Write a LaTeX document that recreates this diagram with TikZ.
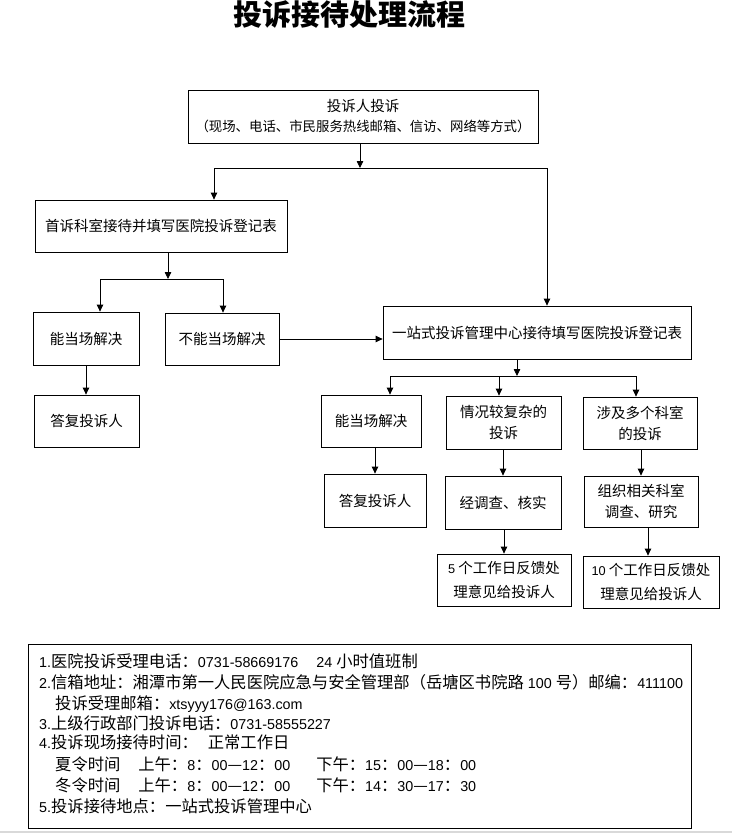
\documentclass[tikz,border=0pt]{standalone}
\usepackage{fontspec}
\setmainfont{Noto Sans CJK SC}
\newfontfamily\latf{Liberation Sans}[Scale=0.88]
\usetikzlibrary{arrows.meta,calc}
\begin{document}
\begin{tikzpicture}[x=1pt,y=-1pt,
  box/.style={draw,line width=0.8pt,inner sep=0pt,align=center,font=\fontsize{14.5}{21}\selectfont},
  arr/.style={line width=0.8pt,-{Triangle[length=7pt,width=6.5pt]}},
  ln/.style={line width=0.8pt},
  info/.style={anchor=base west,inner sep=0pt,font=\fontsize{16.3}{20}\selectfont}]
\useasboundingbox (0,0) rectangle (732,835);
\fill[white] (0,0) rectangle (732,835);
\draw[gray!30,line width=2pt] (0,832) -- (732,832);

\node[inner sep=0pt,font=\fontsize{29}{30}\selectfont\bfseries] (title) at (349,15) {投诉接待处理流程};

\node[box,minimum width=350pt,minimum height=53pt,font=\fontsize{13.4}{20}\selectfont] (b1) at (363,116.5)
  {{\fontsize{14.5}{20}\selectfont 投诉人投诉}\\（现场、电话、市民服务热线邮箱、信访、网络等方式）};
\node[box,minimum width=252pt,minimum height=52pt] (b2) at (161,226) {首诉科室接待并填写医院投诉登记表};
\node[box,minimum width=106pt,minimum height=53pt] (b3) at (86,338.5) {能当场解决};
\node[box,minimum width=114pt,minimum height=52pt] (b4) at (222,339) {不能当场解决};
\node[box,minimum width=105pt,minimum height=52pt] (b5) at (86.5,421) {答复投诉人};
\node[box,minimum width=308pt,minimum height=53pt] (b6) at (537,332.5) {一站式投诉管理中心接待填写医院投诉登记表};
\node[box,minimum width=100pt,minimum height=52pt] (b7) at (371,421) {能当场解决};
\node[box,minimum width=115pt,minimum height=53pt] (b8) at (503.5,422.5) {情况较复杂的\\投诉};
\node[box,minimum width=114pt,minimum height=52pt] (b9) at (640,423) {涉及多个科室\\的投诉};
\node[box,minimum width=102pt,minimum height=53pt] (b10) at (375,500.5) {答复投诉人};
\node[box,minimum width=116pt,minimum height=53pt] (b11) at (503,502.5) {经调查、核实};
\node[box,minimum width=114pt,minimum height=51pt] (b12) at (641,501.5) {组织相关科室\\调查、研究};
\node[box,minimum width=134pt,minimum height=52pt,font=\fontsize{14.5}{24}\selectfont] (b13) at (504,580) {{\latf 5} 个工作日反馈处\\理意见给投诉人};
\node[box,minimum width=136pt,minimum height=52pt,font=\fontsize{14.5}{24}\selectfont] (b14) at (651,582) {{\latf 10} 个工作日反馈处\\理意见给投诉人};

% connectors
\coordinate (j1) at (360,168);
\coordinate (j1l) at (214,168);
\coordinate (j1r) at (547,168);
\draw[arr] (b1.south -| j1) -- (j1);
\draw[ln] (j1l) -- (j1r);
\draw[arr] (j1l) -- (j1l |- b2.north);
\draw[arr] (j1r) -- (j1r |- b6.north);

\coordinate (j2) at (168,279);
\coordinate (j2l) at (100,279);
\coordinate (j2r) at (223,279);
\draw[arr] (b2.south -| j2) -- (j2);
\draw[ln] (j2l) -- (j2r);
\draw[arr] (j2l) -- (j2l |- b3.north);
\draw[arr] (j2r) -- (j2r |- b4.north);
\draw[arr] (b4.east) -- (b4.east -| b6.west);
\draw[arr] (b3.south) -- (b3.south |- b5.north);

\coordinate (j3) at (517,376);
\coordinate (j3l) at (390,376);
\coordinate (j3m) at (499,376);
\coordinate (j3r) at (636,376);
\draw[arr] (b6.south -| j3) -- (j3);
\draw[ln] (j3l) -- (j3r);
\draw[arr] (j3l) -- (j3l |- b7.north);
\draw[arr] (j3m) -- (j3m |- b8.north);
\draw[arr] (j3r) -- (j3r |- b9.north);

\draw[arr] (b10.north |- b7.south) -- (b10.north);
\draw[arr] (b11.north |- b8.south) -- (b11.north);
\draw[arr] (b12.north |- b9.south) -- (b12.north);
\draw[arr] (b13.north |- b11.south) -- (b13.north);
\coordinate (v5) at (648,0);
\draw[arr] (v5 |- b12.south) -- (v5 |- b14.north);

% info box
\node[draw,line width=0.8pt,minimum width=663pt,minimum height=184pt,inner sep=0pt] (infobox) at (359.5,736) {};
\node[info] (t1) at (39,667) {{\latf 1.}医院投诉受理电话：{\latf 0731-58669176}\hspace{18pt}{\latf 24 }小时值班制};
\node[info] (t2) at (39,688) {{\latf 2.}信箱地址：湘潭市第一人民医院应急与安全管理部（岳塘区书院路{\latf\ 100 }号）邮编：{\latf 411100}};
\node[info] (t3) at (55,709) {投诉受理邮箱：{\latf xtsyyy176@163.com}};
\node[info] (t4) at (39,729) {{\latf 3.}上级行政部门投诉电话：{\latf 0731-58555227}};
\node[info] (t5) at (39,748) {{\latf 4.}投诉现场接待时间：\hspace{10pt}正常工作日};
\node[info] (t6) at (55,770) {夏令时间\hspace{18pt}上午：{\latf 8}：{\latf 00}—{\latf 12}：{\latf 00}\hspace{26pt}下午：{\latf 15}：{\latf 00}—{\latf 18}：{\latf 00}};
\node[info] (t7) at (55,791) {冬令时间\hspace{18pt}上午：{\latf 8}：{\latf 00}—{\latf 12}：{\latf 00}\hspace{26pt}下午：{\latf 14}：{\latf 30}—{\latf 17}：{\latf 30}};
\node[info] (t8) at (39,812) {{\latf 5.}投诉接待地点：一站式投诉管理中心};
\end{tikzpicture}
\end{document}
